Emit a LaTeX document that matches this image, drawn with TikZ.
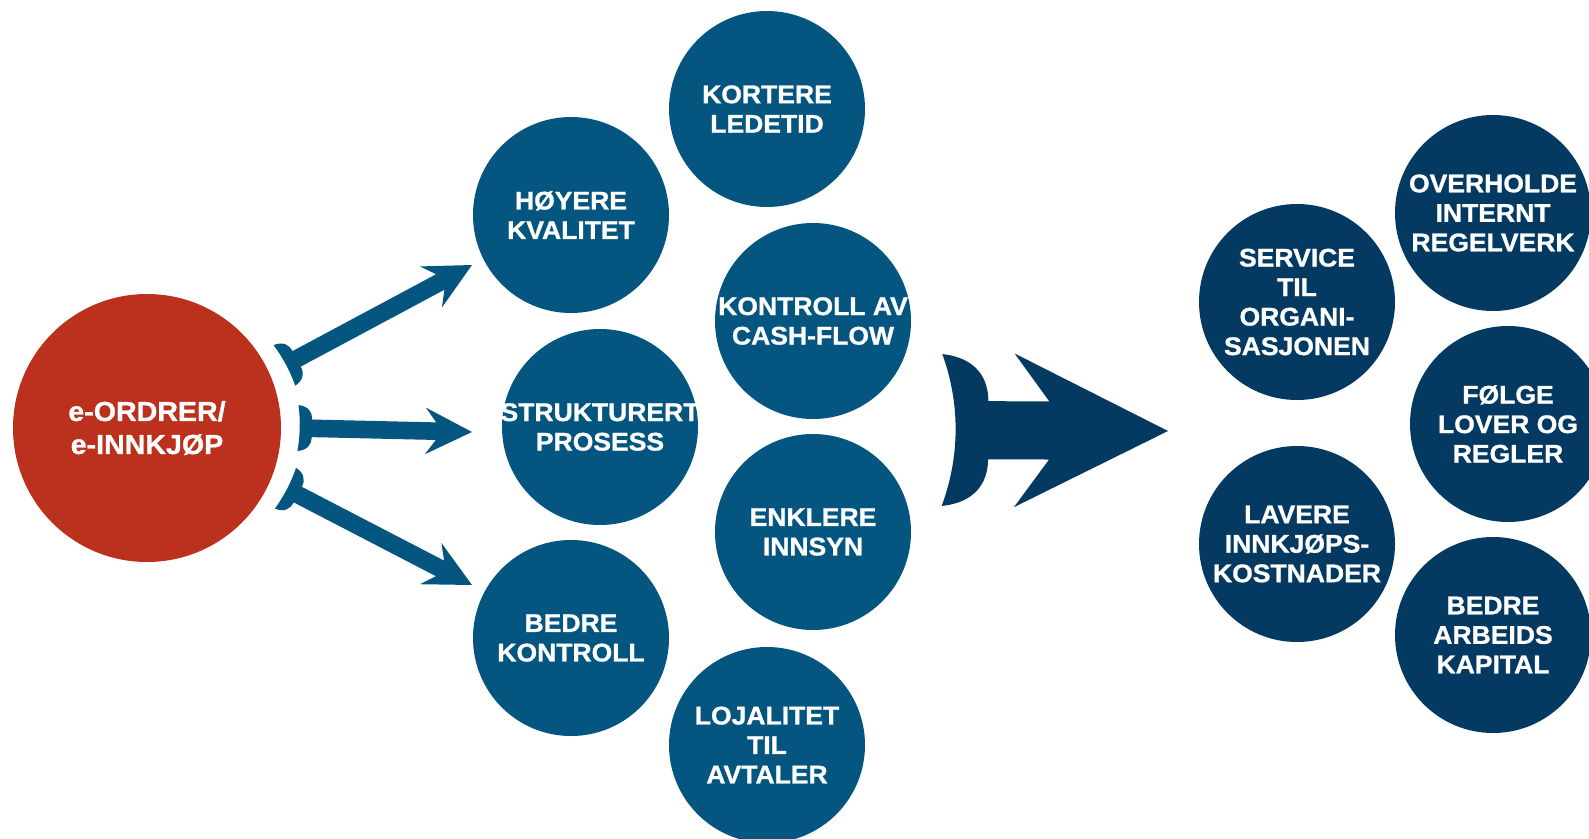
\documentclass[tikz,border=0pt]{standalone}
\usepackage{fontspec}
\newfontfamily\bubblefont[FakeBold=1,FakeStretch=1.04]{Liberation Sans}
\usetikzlibrary{calc}
\definecolor{eored}{RGB}{188,49,29}
\definecolor{midblue}{RGB}{4,85,127}
\definecolor{navy}{RGB}{4,58,97}
\tikzset{bubble/.style={circle,fill=midblue,text=white,minimum size=196pt,inner sep=-6pt,align=center,font=\bubblefont\bfseries\fontsize{25.5}{29.5}\selectfont}}
\tikzset{goal/.style={bubble,fill=navy}}
\tikzset{fish/.style={fill=midblue}}

% fish arrow: [style]{scale}{bulge}{tail}{tip}
\newcommand{\fisharrow}[5][fish]{%
  \pgfpointdiff{\pgfpointanchor{#4}{center}}{\pgfpointanchor{#5}{center}}%
  \pgfgetlastxy{\fishdx}{\fishdy}%
  \pgfmathsetmacro{\fishang}{atan2(\fishdy,\fishdx)}%
  \pgfmathsetmacro{\fishlen}{veclen(\fishdx,\fishdy)/#2}%
  \fill[#1,shift={(#4)},rotate=\fishang,x=1pt,y=1pt,scale=#2]
    (0,-23) .. controls (#3,-8) and (#3,8) .. (0,23)
    .. controls (10,22) and (14,16) .. (14,8.8) -- (\fishlen-36,8.8)
    -- (\fishlen-46.6,23.3) -- (\fishlen,0) -- (\fishlen-46.6,-23.3)
    -- (\fishlen-36,-8.8) -- (14,-8.8)
    .. controls (14,-16) and (10,-22) .. (0,-23) -- cycle;
}

\begin{document}
\begin{tikzpicture}[x=1pt,y=-1pt]
  \useasboundingbox (0,0) rectangle (1589,838);
  \clip (0,0) rectangle (1589,838);

  \node[bubble,fill=eored,minimum size=268pt,font=\bubblefont\bfseries\fontsize{27.5}{33}\selectfont] (eo) at (147,428) {e-ORDRER/\\e-INNKJØP};

  \node[bubble] (kortere) at (767,109) {KORTERE\\LEDETID};
  \node[bubble] (hoyere) at (571,215) {HØYERE\\KVALITET};
  \node[bubble] (cashflow) at (813,321) {KONTROLL AV\\CASH-FLOW};
  \node[bubble] (prosess) at (600,427) {STRUKTURERT\\PROSESS};
  \node[bubble] (innsyn) at (813,532) {ENKLERE\\INNSYN};
  \node[bubble] (kontroll) at (571,638) {BEDRE\\KONTROLL};
  \node[bubble] (lojalitet) at (767,745) {LOJALITET\\TIL\\AVTALER};

  \node[goal] (service) at (1297,302) {SERVICE\\TIL\\ORGANI-\\SASJONEN};
  \node[goal] (kostnad) at (1297,544) {LAVERE\\INNKJØPS-\\KOSTNADER};
  \node[goal] (regelverk) at (1493,213) {OVERHOLDE\\INTERNT\\REGELVERK};
  \node[goal] (lover) at (1508,424) {FØLGE\\LOVER OG\\REGLER};
  \node[goal] (kapital) at (1493,635) {BEDRE\\ARBEIDS\\KAPITAL};

  % arrows out of the red circle
  \coordinate (tail1) at ($(eo.center)+(-24.5:151)$);
  \coordinate (tail2) at ($(eo.center)+(0:151)$);
  \coordinate (tail3) at ($(eo.center)+(23.5:151)$);
  \coordinate (tip1) at (472,265);
  \coordinate (tip2) at (472,432);
  \coordinate (tip3) at (472,585);
  \fisharrow{1}{2.3}{tail1}{tip1}
  \fisharrow{1}{2.3}{tail2}{tip2}
  \fisharrow{1}{2.3}{tail3}{tip3}

  % big arrow
  \coordinate (bigtail) at (942,430);
  \coordinate (bigtip) at (1168,431);
  \fisharrow[fish,fill=navy]{3.3}{5.5}{bigtail}{bigtip}
\end{tikzpicture}
\end{document}
